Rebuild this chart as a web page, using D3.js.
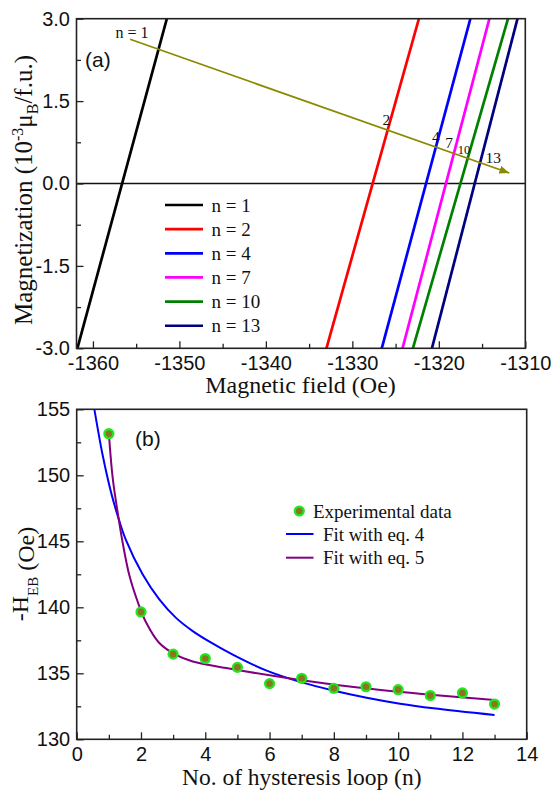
<!DOCTYPE html>
<html>
<head>
<meta charset="utf-8">
<script src="https://cdn.jsdelivr.net/npm/d3@7/dist/d3.min.js"></script>
<style>
  html, body { margin: 0; padding: 0; background: #fff; }
  svg { display: block; }
  .tick text { font-family: "Liberation Sans", Arial, sans-serif; font-size: 20px; fill: #111; }
  .serif { font-family: "Liberation Serif", "Times New Roman", serif; fill: #111; }
  .sans { font-family: "Liberation Sans", Arial, sans-serif; fill: #111; }
</style>
</head>
<body>
<svg id="chart" width="552" height="792"></svg>
<script>
// ---- Panel (a): magnetization branches near the coercive field ----
const loopNumbers = [1, 2, 4, 7, 10, 13];
const loopColors = ["#000000", "#ff0000", "#0000ff", "#ff00ff", "#008000", "#000080"];
// field (Oe) where each branch reaches M = -3 and M = +3 (10^-3 μB/f.u.)
const fieldAtMin = [-1361.8, -1333.0, -1326.6, -1324.2, -1323.0, -1320.8];
const fieldAtMax = [-1351.45, -1322.3, -1316.35, -1314.15, -1312.0, -1310.9];
const momentEnds = [-3, 3];
const fieldTicks = [-1360, -1350, -1340, -1330, -1320, -1310];
const fieldMinorTicks = [-1355, -1345, -1335, -1325, -1315];
const momentTicks = [-3, -1.5, 0, 1.5, 3];
const momentMinorTicks = [-2.25, -0.75, 0.75, 2.25];
// arrow through the crossings, with its labels
const arrowFrom = [-1355.7, 2.625];
const arrowTo = [-1311.85, 0.19];
const arrowLabels = ["n = 1", "2", "4", "7", "10", "13"];
const arrowLabelField = [-1357.4, -1326.5, -1320.8, -1319.25, -1317.8, -1314.6];
const arrowLabelMoment = [2.64, 1.065, 0.76, 0.64, 0.53, 0.38];

// ---- Panel (b): training effect of the exchange-bias field ----
const loopIndex = [1, 2, 3, 4, 5, 6, 7, 8, 9, 10, 11, 12, 13];
const hebValues = [153.15, 139.65, 136.45, 136.12, 135.45, 134.22, 134.62, 133.86, 133.98, 133.76, 133.32, 133.51, 132.67];
const fit4N = [0.55, 0.81, 1.07, 1.28, 1.53, 2.05, 2.57, 3.09, 3.61, 4.13, 4.87, 5.91, 6.95, 7.98, 9.02, 10.06, 11.1, 13.0];
const fit4H = [155.0, 151.5, 148.7, 146.9, 145.1, 142.5, 140.6, 139.2, 138.2, 137.4, 136.4, 135.2, 134.35, 133.7, 133.15, 132.7, 132.35, 131.84];
const fit5N = [1.0, 1.12, 1.28, 1.43, 1.64, 1.9, 2.16, 2.57, 3.09, 3.61, 4.65, 6.95, 9.02, 11.1, 13.0];
const fit5H = [153.2, 149.8, 147.1, 144.9, 142.4, 140.4, 138.85, 137.3, 136.4, 135.9, 135.4, 134.5, 133.85, 133.36, 132.98];
const loopTicks = [0, 2, 4, 6, 8, 10, 12, 14];
const loopMinorTicks = [1, 3, 5, 7, 9, 11, 13];
const hebTicks = [130, 135, 140, 145, 150, 155];
const hebMinorTicks = [132.5, 137.5, 142.5, 147.5, 152.5];

const svg = d3.select("#chart");
const frameColor = "#222";

function drawAxes(g, x, y, xt, xm, yt, ym, xfmt, yfmt) {
  const x0 = x.range()[0], x1 = x.range()[1];
  const y0 = y.range()[0], y1 = y.range()[1];
  // minor ticks, pointing inward
  g.append("g").attr("transform", `translate(0,${y0})`)
    .call(d3.axisBottom(x).tickValues(xm).tickSizeInner(-4.5).tickSizeOuter(0).tickFormat(""));
  g.append("g").attr("transform", `translate(${x0},0)`)
    .call(d3.axisLeft(y).tickValues(ym).tickSizeInner(-4.5).tickSizeOuter(0).tickFormat(""));
  // major ticks with labels
  g.append("g").attr("transform", `translate(0,${y0})`)
    .call(d3.axisBottom(x).tickValues(xt).tickSizeInner(-7).tickSizeOuter(0).tickPadding(7.5).tickFormat(xfmt));
  g.append("g").attr("transform", `translate(${x0},0)`)
    .call(d3.axisLeft(y).tickValues(yt).tickSizeInner(-7).tickSizeOuter(0).tickPadding(6.5).tickFormat(yfmt));
  g.selectAll(".domain").remove();
  g.selectAll(".tick line").attr("stroke", frameColor).attr("stroke-width", 1.3);
  // frame
  g.append("rect")
    .attr("x", x0).attr("y", y1).attr("width", x1 - x0).attr("height", y0 - y1)
    .attr("fill", "none").attr("stroke", frameColor).attr("stroke-width", 1.6);
}

// ================= Panel (a) =================
const xa = d3.scaleLinear().domain([-1361.9, -1310]).range([76.5, 525.3]);
const ya = d3.scaleLinear().domain([-3, 3]).range([348.3, 18.7]);
const ga = svg.append("g");

svg.append("defs").append("clipPath").attr("id", "clipA")
  .append("rect").attr("x", 76.5).attr("y", 18.7).attr("width", 525.3 - 76.5).attr("height", 348.3 - 18.7);

// zero line
ga.append("line")
  .attr("x1", xa.range()[0]).attr("x2", xa.range()[1])
  .attr("y1", ya(0)).attr("y2", ya(0))
  .attr("stroke", "#111").attr("stroke-width", 1.3);

const branchLine = d3.line().x(d => xa(d[0])).y(d => ya(d[1]));
const branches = ga.append("g").attr("clip-path", "url(#clipA)");
loopNumbers.forEach((n, i) => {
  branches.append("path")
    .datum([[fieldAtMin[i], momentEnds[0]], [fieldAtMax[i], momentEnds[1]]])
    .attr("d", branchLine)
    .attr("fill", "none")
    .attr("stroke", loopColors[i])
    .attr("stroke-width", 2.7);
});

// arrow
const arrowColor = "#8a8a00";
svg.select("defs").append("marker")
  .attr("id", "arrowHead")
  .attr("viewBox", "0 0 10 8")
  .attr("refX", 10).attr("refY", 4)
  .attr("markerWidth", 10).attr("markerHeight", 8)
  .attr("markerUnits", "userSpaceOnUse")
  .attr("orient", "auto")
  .append("path").attr("d", "M0,0 L10,4 L0,8 Z").attr("fill", arrowColor);

ga.append("line")
  .attr("x1", xa(arrowFrom[0])).attr("y1", ya(arrowFrom[1]))
  .attr("x2", xa(arrowTo[0])).attr("y2", ya(arrowTo[1]))
  .attr("stroke", arrowColor).attr("stroke-width", 1.7)
  .attr("marker-end", "url(#arrowHead)");

arrowLabels.forEach((t, i) => {
  ga.append("text").attr("class", "serif")
    .attr("x", xa(arrowLabelField[i])).attr("y", ya(arrowLabelMoment[i]))
    .attr("font-size", t === "10" ? 12.5 : (i === 0 ? 16 : 15.5))
    .attr("fill", "#333")
    .text(t);
});

drawAxes(ga, xa, ya, fieldTicks, fieldMinorTicks, momentTicks, momentMinorTicks,
  d => String(d), d => d.toFixed(1));

ga.append("text").attr("class", "sans")
  .attr("x", 85).attr("y", 67).attr("font-size", 21).text("(a)");

// legend
const legA = ga.append("g");
loopNumbers.forEach((n, i) => {
  const yy = 205 + i * 24.15;
  legA.append("line").attr("x1", 165).attr("x2", 203).attr("y1", yy).attr("y2", yy)
    .attr("stroke", loopColors[i]).attr("stroke-width", 2.7);
  legA.append("text").attr("class", "serif").attr("x", 211.5).attr("y", yy + 6.5)
    .attr("font-size", 19).text(`n = ${n}`);
});

// axis titles
ga.append("text").attr("class", "serif")
  .attr("x", 300.5).attr("y", 393).attr("text-anchor", "middle")
  .attr("font-size", 24).text("Magnetic field (Oe)");

const ta = ga.append("text").attr("class", "serif")
  .attr("transform", "translate(32,190) rotate(-90)")
  .attr("text-anchor", "middle").attr("font-size", 25);
ta.append("tspan").text("Magnetization (10");
ta.append("tspan").attr("dy", -9).attr("font-size", 16).text("-3");
ta.append("tspan").attr("dy", 9).text("μ");
ta.append("tspan").attr("dy", 6).attr("font-size", 16).text("B");
ta.append("tspan").attr("dy", -6).text("/f.u.)");

// ================= Panel (b) =================
const xb = d3.scaleLinear().domain([0, 14]).range([76.7, 526.7]);
const yb = d3.scaleLinear().domain([130, 155]).range([739.3, 409.3]);
const gb = svg.append("g");

svg.select("defs").append("clipPath").attr("id", "clipB")
  .append("rect").attr("x", 76.7).attr("y", 409.3).attr("width", 450).attr("height", 330);

const fitLine = d3.line().x(d => xb(d[0])).y(d => yb(d[1])).curve(d3.curveCatmullRom.alpha(0.5));
const fits = gb.append("g").attr("clip-path", "url(#clipB)");
fits.append("path")
  .datum(fit4N.map((n, i) => [n, fit4H[i]]))
  .attr("d", fitLine).attr("fill", "none").attr("stroke", "#0000ff").attr("stroke-width", 2);
fits.append("path")
  .datum(fit5N.map((n, i) => [n, fit5H[i]]))
  .attr("d", fitLine).attr("fill", "none").attr("stroke", "#800080").attr("stroke-width", 2);

const pts = gb.append("g");
loopIndex.forEach((n, i) => {
  pts.append("circle").attr("cx", xb(n)).attr("cy", yb(hebValues[i])).attr("r", 5.6).attr("fill", "#1fe81f");
  pts.append("circle").attr("cx", xb(n)).attr("cy", yb(hebValues[i])).attr("r", 3.3).attr("fill", "#8c7420");
});

drawAxes(gb, xb, yb, loopTicks, loopMinorTicks, hebTicks, hebMinorTicks,
  d => String(d), d => String(d));

gb.append("text").attr("class", "sans")
  .attr("x", 135).attr("y", 446).attr("font-size", 21).text("(b)");

// legend
const legB = gb.append("g");
legB.append("circle").attr("cx", 299.3).attr("cy", 511).attr("r", 5.6).attr("fill", "#1fe81f");
legB.append("circle").attr("cx", 299.3).attr("cy", 511).attr("r", 3.3).attr("fill", "#8c7420");
legB.append("text").attr("class", "serif").attr("x", 313).attr("y", 517.5).attr("font-size", 19).text("Experimental data");
legB.append("line").attr("x1", 286).attr("x2", 313.5).attr("y1", 534).attr("y2", 534)
  .attr("stroke", "#0000ff").attr("stroke-width", 2);
legB.append("text").attr("class", "serif").attr("x", 323).attr("y", 540.5).attr("font-size", 19).text("Fit with eq. 4");
legB.append("line").attr("x1", 286).attr("x2", 313.5).attr("y1", 557.7).attr("y2", 557.7)
  .attr("stroke", "#800080").attr("stroke-width", 2);
legB.append("text").attr("class", "serif").attr("x", 323).attr("y", 564).attr("font-size", 19).text("Fit with eq. 5");

gb.append("text").attr("class", "serif")
  .attr("x", 301.7).attr("y", 784.5).attr("text-anchor", "middle")
  .attr("font-size", 23.5).text("No. of hysteresis loop (n)");

const tb = gb.append("text").attr("class", "serif")
  .attr("transform", "translate(34,574) rotate(-90)")
  .attr("text-anchor", "middle").attr("font-size", 24);
tb.append("tspan").attr("dy", -6).text("-H");
tb.append("tspan").attr("dy", 10).attr("font-size", 15).text("EB");
tb.append("tspan").attr("dy", -4).text(" (Oe)");
</script>
</body>
</html>
